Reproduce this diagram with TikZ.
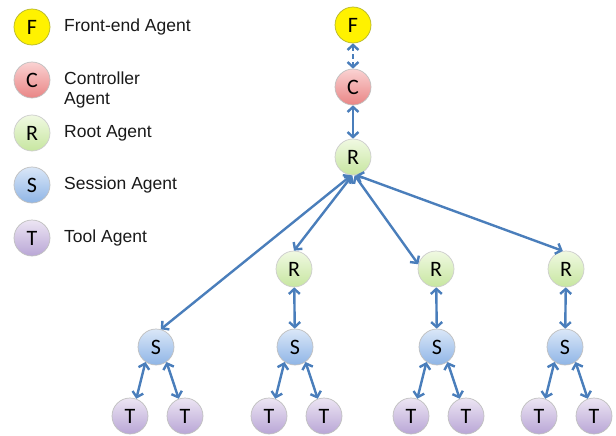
\documentclass[tikz,border=0pt]{standalone}
\usepackage{fontspec}
\setmainfont{Liberation Sans}
\newfontfamily\nodefont{Carlito}
\usetikzlibrary{arrows.meta}
\definecolor{arrowblue}{HTML}{4A7EBB}
\definecolor{fborder}{HTML}{B5B52A}
\definecolor{ctop}{HTML}{FAD2D2}
\definecolor{cbot}{HTML}{E98585}
\definecolor{rtop}{HTML}{F0F9E2}
\definecolor{rbot}{HTML}{C7E6A0}
\definecolor{stop}{HTML}{DAE7F8}
\definecolor{sbot}{HTML}{8FB5E6}
\definecolor{ttop}{HTML}{ECE5F3}
\definecolor{tbot}{HTML}{B9A6D6}
\begin{document}
\begin{tikzpicture}[x=1pt,y=-1pt,
  agent/.style={circle,minimum size=36pt,inner sep=0pt,line width=0.7pt,
    font=\nodefont\fontsize{22}{22}\selectfont},
  fag/.style={agent,draw=fborder,fill=yellow},
  cag/.style={agent,draw=black!25,top color=ctop,bottom color=cbot},
  rag/.style={agent,draw=black!20,top color=rtop,bottom color=rbot},
  sag/.style={agent,draw=black!25,top color=stop,bottom color=sbot},
  tag/.style={agent,draw=black!25,top color=ttop,bottom color=tbot},
  legtext/.style={anchor=west,font=\fontsize{17.5}{20}\selectfont,text=black!90,inner sep=0pt,align=left},
  link/.style={draw=arrowblue,line width=2.4pt,{Straight Barb[length=5pt,width=11pt]}-{Straight Barb[length=5pt,width=11pt]}}
]
\useasboundingbox (0,0) rectangle (616,436);
% legend
\node[fag] (lF) at (32,27) {F};
\node[cag] (lC) at (32,80) {C};
\node[rag] (lR) at (32,133) {R};
\node[sag] (lS) at (32,185) {S};
\node[tag] (lT) at (32,238) {T};
\node[legtext] (tF) at (64,27) {Front-end Agent};
\node[legtext] (tC) at (64,90) {Controller\\Agent};
\node[legtext] (tR) at (64,133) {Root Agent};
\node[legtext] (tS) at (64,185) {Session Agent};
\node[legtext] (tT) at (64,238) {Tool Agent};
% tree
\node[fag] (F) at (353,25) {F};
\node[cag] (C) at (353,87) {C};
\node[rag] (R) at (353,157) {R};
\node[rag] (R1) at (294,269) {R};
\node[rag] (R2) at (436,269) {R};
\node[rag] (R3) at (566,269) {R};
\node[sag] (S1) at (156,347) {S};
\node[sag] (S2) at (295,347) {S};
\node[sag] (S3) at (437,347) {S};
\node[sag] (S4) at (565,347) {S};
\node[tag] (T1) at (130,416) {T};
\node[tag] (T2) at (185,416) {T};
\node[tag] (T3) at (269,416) {T};
\node[tag] (T4) at (324,416) {T};
\node[tag] (T5) at (411,416) {T};
\node[tag] (T6) at (466,416) {T};
\node[tag] (T7) at (539,416) {T};
\node[tag] (T8) at (594,416) {T};
% links
\draw[link,dash pattern=on 5pt off 3pt] (F) -- (C);
\draw[link] (C) -- (R);
\draw[link] (R.-95) -- (S1.75);
\draw[link] (R.-92) -- (R1.north);
\draw[link] (R.-85) -- (R2.165);
\draw[link] (R.-80) -- (R3.100);
\draw[link] (R1) -- (S2);
\draw[link] (R2) -- (S3);
\draw[link] (R3) -- (S4);
\foreach \s/\a/\b in {S1/T1/T2,S2/T3/T4,S3/T5/T6,S4/T7/T8}{
  \draw[link] (\s.235) -- (\a.70);
  \draw[link] (\s.-55) -- (\b.110);
}
\end{tikzpicture}
\end{document}
